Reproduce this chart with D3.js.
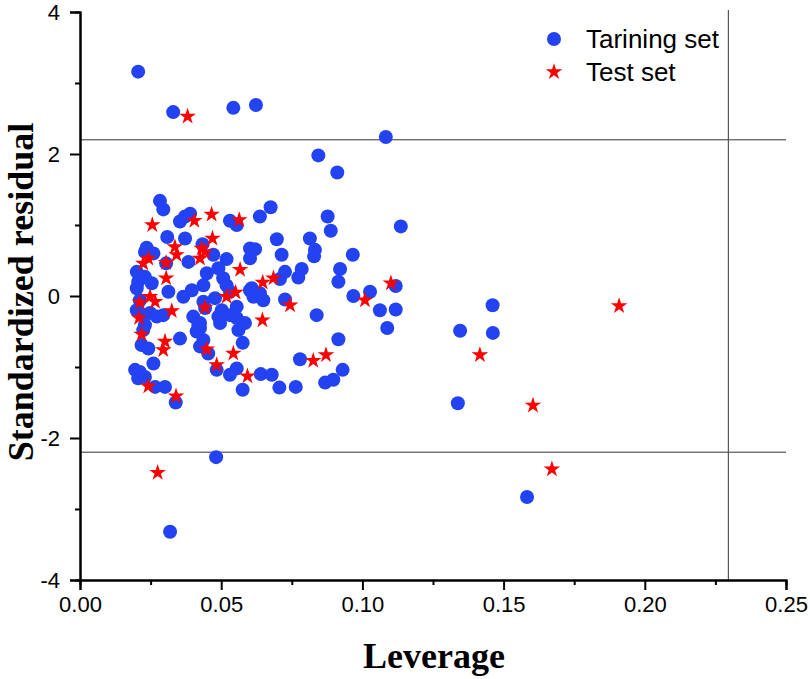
<!DOCTYPE html>
<html>
<head>
<meta charset="utf-8">
<script src="https://cdn.jsdelivr.net/npm/d3@7"></script>
<style>
  body { margin: 0; background: #fff; }
  svg { display: block; }
</style>
</head>
<body>
<svg id="chart" width="810" height="679"></svg>
<script>
// ---------- data ----------
const trainLeverage = [
  0.0206,0.0330,0.0543,0.0623,0.1083,0.0844,0.0911,0.0283,0.0295,0.0354,
  0.0372,0.0390,0.0531,0.0555,0.0637,0.0675,0.0877,0.0888,0.1136,0.0309,
  0.0372,0.0434,0.0697,0.0814,0.0832,0.0829,0.0602,0.0620,0.0602,0.0714,
  0.0966,0.0230,0.0260,0.0305,0.0384,0.0472,0.0519,0.0490,0.0201,0.0206,
  0.0230,0.0254,0.0449,0.0507,0.0519,0.0437,0.0396,0.0366,0.0313,0.0201,
  0.0201,0.0478,0.0602,0.0614,0.0555,0.0502,0.0531,0.0401,0.0425,0.0425,
  0.0354,0.0561,0.0584,0.0726,0.0708,0.0785,0.0773,0.0921,0.0915,0.0608,
  0.0637,0.0649,0.0726,0.0968,0.1027,0.1118,0.1062,0.1118,0.0838,0.1088,
  0.0915,0.0779,0.0930,0.0868,0.0897,0.0640,0.0679,0.0706,0.0764,0.0576,
  0.0555,0.0531,0.0484,0.0454,0.0425,0.0437,0.0413,0.0419,0.0248,0.0272,
  0.0295,0.0230,0.0224,0.0218,0.0242,0.0195,0.0212,0.0206,0.0230,0.0260,
  0.0266,0.0301,0.0339,0.0482,0.0319,0.1346,0.1462,0.1338,0.1583,0.1461,
  0.0212,0.0224,0.0576,0.0490,0.0496,0.0555,0.0437,0.0443,0.0531,0.0236
];
const trainResidual = [
  3.16,2.59,2.65,2.69,2.24,1.98,1.74,1.34,1.22,1.05,
  1.12,1.16,1.06,1.00,1.12,1.25,1.12,0.92,0.98,0.83,
  0.81,0.73,0.80,0.81,0.65,0.56,0.67,0.66,0.53,0.58,
  0.58,0.62,0.60,0.46,0.48,0.58,0.52,0.39,0.34,0.20,
  0.27,0.18,0.32,0.25,0.15,0.15,0.08,-0.01,0.06,0.11,
  -0.20,-0.03,0.08,-0.01,-0.15,-0.20,-0.27,-0.29,-0.38,-0.45,
  -0.60,-0.48,-0.38,0.34,0.24,0.38,0.26,0.38,0.20,0.11,
  0.04,-0.06,-0.05,0.00,0.06,0.14,-0.20,-0.19,-0.27,-0.45,
  -0.61,-0.89,-1.04,-1.22,-1.18,-1.10,-1.11,-1.29,-1.28,-1.32,
  -1.02,-1.11,-1.04,-0.81,-0.71,-0.62,-0.50,-0.41,-0.24,-0.29,
  -0.27,-0.41,-0.48,-0.69,-0.74,-1.04,-1.07,-1.16,-1.14,-0.95,
  -1.28,-1.28,-1.50,-2.27,-3.32,-0.49,-0.52,-1.51,-2.83,-0.13,
  -0.06,-0.27,-0.66,-0.29,-0.38,-0.31,-0.08,-0.17,0.06,0.68
];
const testLeverage = [
  0.0381,0.0256,0.0405,0.0466,0.0564,0.0469,0.0336,0.0342,0.0431,0.0443,
  0.0425,0.0242,0.0224,0.0305,0.0305,0.0567,0.0519,0.0551,0.0443,0.0325,
  0.0212,0.0248,0.0266,0.0209,0.0218,0.0301,0.0295,0.0242,0.0340,0.0449,
  0.0484,0.0543,0.0275,0.0647,0.0685,0.0744,0.1009,0.1101,0.0646,0.0826,
  0.0871,0.0593,0.1416,0.1604,0.1671,0.1909
];
const testResidual = [
  2.53,1.00,1.06,1.15,1.07,0.81,0.69,0.58,0.67,0.62,
  0.53,0.53,0.46,0.47,0.25,0.37,-0.01,0.05,-0.16,-0.21,
  -0.09,-0.01,-0.08,-0.31,-0.54,-0.64,-0.76,-1.27,-1.41,-0.75,
  -0.97,-0.81,-2.49,0.19,0.25,-0.13,-0.06,0.18,-0.34,-0.91,
  -0.83,-1.13,-0.83,-1.54,-2.44,-0.14
];
const xTicks = [0, 0.05, 0.10, 0.15, 0.20, 0.25];
const xMinorTicks = [0.025, 0.075, 0.125, 0.175, 0.225];
const yTicks = [-4, -2, 0, 2, 4];
const yMinorTicks = [-3, -1, 1, 3];
const residualLimits = [2.2, -2.2];
const leverageLimit = 0.2296;
const seriesNames = ["Tarining set", "Test set"];
const xTitle = "Leverage";
const yTitle = "Standardized residual";

// ---------- layout ----------
const svg = d3.select("#chart");
const x = d3.scaleLinear().domain([0, 0.25]).range([80, 786]);
const y = d3.scaleLinear().domain([-4, 4]).range([580, 12]);
const blue = "#2342f2";
const red = "#ff0000";

// reference lines
svg.selectAll("line.hlim").data(residualLimits).join("line")
  .attr("x1", x(0)).attr("x2", x(0.25))
  .attr("y1", d => y(d)).attr("y2", d => y(d))
  .attr("stroke", "#333").attr("stroke-width", 1);
svg.append("line")
  .attr("x1", x(leverageLimit)).attr("x2", x(leverageLimit))
  .attr("y1", 10).attr("y2", y(-4))
  .attr("stroke", "#555").attr("stroke-width", 1.2);

// axes
const tickFont = "'Liberation Sans', Arial, sans-serif";
const gx = svg.append("g").attr("transform", `translate(0,${y(-4)})`)
  .call(d3.axisBottom(x).tickValues(xTicks).tickSize(10).tickPadding(6).tickFormat(d3.format(".2f")));
const gxm = svg.append("g").attr("transform", `translate(0,${y(-4)})`)
  .call(d3.axisBottom(x).tickValues(xMinorTicks).tickSize(5).tickFormat(""));
const gy = svg.append("g").attr("transform", `translate(${x(0)},0)`)
  .call(d3.axisLeft(y).tickValues(yTicks).tickSize(10).tickPadding(10).tickFormat(d => String(d)));
const gym = svg.append("g").attr("transform", `translate(${x(0)},0)`)
  .call(d3.axisLeft(y).tickValues(yMinorTicks).tickSize(5).tickFormat(""));
[gx, gxm, gy, gym].forEach(g => {
  g.selectAll("path.domain").attr("stroke", "#000").attr("stroke-width", 2);
  g.selectAll(".tick line").attr("stroke", "#000").attr("stroke-width", 2);
  g.selectAll("text").attr("font-family", tickFont).attr("font-size", 22).attr("fill", "#000");
});
gy.selectAll("text").attr("dy", "0.35em");

// points
const train = trainLeverage.map((v, i) => ({ h: v, r: trainResidual[i] }));
const test = testLeverage.map((v, i) => ({ h: v, r: testResidual[i] }));
svg.append("g").selectAll("circle").data(train).join("circle")
  .attr("cx", d => x(d.h)).attr("cy", d => y(d.r)).attr("r", 7)
  .attr("fill", blue);
const star = d3.symbol().type(d3.symbolStar).size(85);
svg.append("g").selectAll("path").data(test).join("path")
  .attr("d", star)
  .attr("transform", d => `translate(${x(d.h)},${y(d.r)})`)
  .attr("fill", red);

// legend
const leg = svg.append("g");
leg.append("circle").attr("cx", 554).attr("cy", 39).attr("r", 7).attr("fill", blue);
leg.append("path").attr("d", star).attr("transform", "translate(554,72)").attr("fill", red);
leg.selectAll("text").data(seriesNames).join("text")
  .attr("x", 586).attr("y", (d, i) => 48 + i * 33)
  .attr("font-family", tickFont).attr("font-size", 26).attr("fill", "#000")
  .text(d => d);

// titles
const titleFont = "'Liberation Serif', 'Times New Roman', serif";
svg.append("text").attr("x", 434).attr("y", 668).attr("text-anchor", "middle")
  .attr("font-family", titleFont).attr("font-weight", "bold").attr("font-size", 36)
  .text(xTitle);
svg.append("text").attr("transform", "translate(33,292) rotate(-90)").attr("text-anchor", "middle")
  .attr("font-family", titleFont).attr("font-weight", "bold").attr("font-size", 36)
  .text(yTitle);
</script>
</body>
</html>
